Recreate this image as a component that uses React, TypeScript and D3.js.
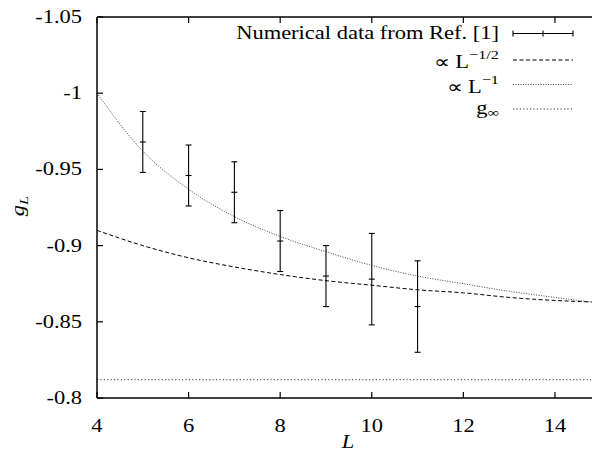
import React from "react";
import * as d3 from "d3";

const W = 592;
const H = 452;

// numerical data (error bars)
const sizes = [5, 6, 7, 8, 9, 10, 11];
const gValues = [-0.968, -0.946, -0.935, -0.903, -0.88, -0.878, -0.86];
const gErrors = [0.02, 0.02, 0.02, 0.02, 0.02, 0.03, 0.03];

// fitted curves
const curveL = [4, 5, 6, 7, 8, 9, 10, 11, 12, 13, 14, 14.8];
const invSqrtFit = [-0.91, -0.9, -0.892, -0.886, -0.881, -0.877, -0.874, -0.871, -0.869, -0.866, -0.864, -0.863];
const invFit = [-1.0, -0.962, -0.937, -0.919, -0.906, -0.896, -0.887, -0.88, -0.875, -0.87, -0.866, -0.863];
const gInf = -0.812;

const xTicks = [4, 6, 8, 10, 12, 14];
const yTicks = [-1.05, -1, -0.95, -0.9, -0.85, -0.8];
const yTickLabels = ["-1.05", "-1", "-0.95", "-0.9", "-0.85", "-0.8"];

const FONT = "'Liberation Serif', 'Times New Roman', serif";
const SX = 1.25; // text looks stretched horizontally

const T = ({ x, y, anchor = "start", size = 18, children, italic = false }: any) => (
  <g transform={`translate(${x},${y}) scale(${SX},1)`}>
    <text textAnchor={anchor} fontSize={size} fontFamily={FONT} fontStyle={italic ? "italic" : "normal"} fill="#000">
      {children}
    </text>
  </g>
);

export default function App() {
  const left = 97, top = 17, bottom = 398;
  const x = d3.scaleLinear().domain([4, 14.8]).range([left, 591.6]);
  const y = d3.scaleLinear().domain([-1.05, -0.8]).range([top, bottom]);
  const right = W;

  const line = d3
    .line<number>()
    .x((_, i) => x(curveL[i]))
    .y((d) => y(d))
    .curve(d3.curveMonotoneX);

  const lx1 = 513, lx2 = 573;
  const rows = [33.5, 60, 84.5, 109];

  return (
    <svg width={W} height={H} style={{ position: "absolute", left: 0, top: 0, background: "#fff" }}>
      {/* curves */}
      <path d={line(invFit) || ""} fill="none" stroke="#444" strokeWidth={1} strokeDasharray="1,1.5" />
      <path d={line(invSqrtFit) || ""} fill="none" stroke="#000" strokeWidth={1} strokeDasharray="4,2.5" />
      <line x1={left} x2={right} y1={y(gInf)} y2={y(gInf)} stroke="#333" strokeWidth={1} strokeDasharray="1.2,2.2" />

      {/* error bars */}
      {sizes.map((L, i) => {
        const cx = x(L);
        const y0 = y(gValues[i] - gErrors[i]);
        const y1 = y(gValues[i] + gErrors[i]);
        const yc = y(gValues[i]);
        return (
          <g key={L} stroke="#000" strokeWidth={1.1}>
            <line x1={cx} x2={cx} y1={y0} y2={y1} />
            <line x1={cx - 3} x2={cx + 3} y1={y0} y2={y0} />
            <line x1={cx - 3} x2={cx + 3} y1={y1} y2={y1} />
            <line x1={cx - 3} x2={cx + 3} y1={yc} y2={yc} />
          </g>
        );
      })}

      {/* border */}
      <g stroke="#000" strokeWidth={1.5} fill="none">
        <line x1={left} x2={left} y1={top} y2={bottom} />
        <line x1={left} x2={right} y1={bottom} y2={bottom} />
        <line x1={left} x2={right} y1={top} y2={top} />
      </g>

      {/* ticks */}
      <g stroke="#000" strokeWidth={1.2}>
        {yTicks.map((t) => (
          <line key={t} x1={left} x2={left + 6} y1={y(t)} y2={y(t)} />
        ))}
        {xTicks.map((t) => (
          <g key={t}>
            <line x1={x(t)} x2={x(t)} y1={bottom} y2={bottom - 6} />
            <line x1={x(t)} x2={x(t)} y1={top} y2={top + 6} />
          </g>
        ))}
      </g>

      {yTicks.map((t, i) => (
        <T key={t} x={82} y={y(t) + 6} anchor="end">
          {yTickLabels[i]}
        </T>
      ))}
      {xTicks.map((t) => (
        <T key={t} x={x(t)} y={432} anchor="middle">
          {t}
        </T>
      ))}

      <T x={348} y={448} anchor="middle" italic>
        L
      </T>

      <g transform="translate(24,206) rotate(-90)">
        <g transform={`scale(${SX},1)`}>
          <text textAnchor="middle" fontSize={18} fontFamily={FONT} fontStyle="italic">
            g<tspan fontSize={13} dy={4}>L</tspan>
          </text>
        </g>
      </g>

      {/* legend */}
      <T x={499} y={rows[0] + 5} anchor="end">
        Numerical data from Ref. [1]
      </T>
      <g stroke="#000" strokeWidth={1.1}>
        <line x1={lx1} x2={lx2} y1={rows[0]} y2={rows[0]} />
        <line x1={lx1} x2={lx1} y1={rows[0] - 3} y2={rows[0] + 3} />
        <line x1={lx2} x2={lx2} y1={rows[0] - 3} y2={rows[0] + 3} />
        <line x1={(lx1 + lx2) / 2} x2={(lx1 + lx2) / 2} y1={rows[0] - 3} y2={rows[0] + 3} />
      </g>

      <T x={499} y={rows[1] + 8} anchor="end">
        ∝ L<tspan fontSize={13} dy={-9}>−1/2</tspan>
      </T>
      <line x1={lx1} x2={lx2} y1={rows[1]} y2={rows[1]} stroke="#000" strokeWidth={1} strokeDasharray="4,2.5" />

      <T x={499} y={rows[2] + 8} anchor="end">
        ∝ L<tspan fontSize={13} dy={-9}>−1</tspan>
      </T>
      <line x1={lx1} x2={lx2} y1={rows[2]} y2={rows[2]} stroke="#444" strokeWidth={1} strokeDasharray="1,1.5" />

      <T x={499} y={rows[3] + 5} anchor="end">
        g<tspan fontSize={13} dy={3}>∞</tspan>
      </T>
      <line x1={lx1} x2={lx2} y1={rows[3]} y2={rows[3]} stroke="#333" strokeWidth={1} strokeDasharray="1.2,2.2" />
    </svg>
  );
}
